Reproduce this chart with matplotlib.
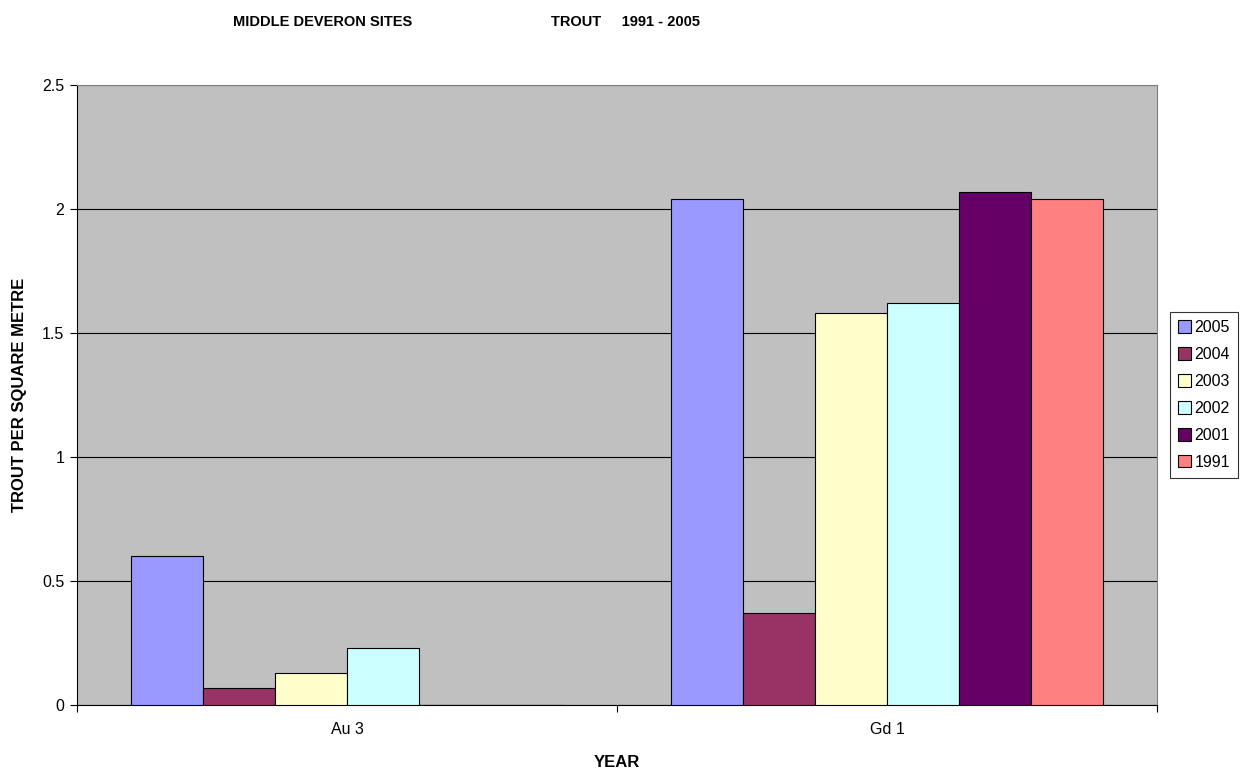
import numpy as np
import matplotlib.pyplot as plt

plt.rcParams['font.family'] = ['Liberation Sans', 'DejaVu Sans']

sites = ['Au 3', 'Gd 1']
years = ['2005', '2004', '2003', '2002', '2001', '1991']
colors = ['#9999FF', '#993366', '#FFFFCC', '#CCFFFF', '#660066', '#FF8080']
values = {
    '2005': [0.60, 2.04],
    '2004': [0.07, 0.37],
    '2003': [0.13, 1.58],
    '2002': [0.23, 1.62],
    '2001': [0.0, 2.07],
    '1991': [0.0, 2.04],
}

fig = plt.figure(figsize=(12.45, 7.76), dpi=100)
ax = fig.add_axes([0.0618, 0.0915, 0.8675, 0.799])
ax.set_facecolor('#C0C0C0')

centers = np.arange(len(sites)) + 0.5
w = 0.8 / len(years)
for i, (yr, c) in enumerate(zip(years, colors)):
    x = centers - 0.4 + w * (i + 0.5)
    ax.bar(x, values[yr], width=w, color=c, edgecolor='black', linewidth=0.8,
           label=yr, zorder=3)

ax.set_xlim(0, len(sites))
ax.set_ylim(0, 2.5)
ax.set_yticks([0, 0.5, 1, 1.5, 2, 2.5])
ax.set_yticklabels(['0', '0.5', '1', '1.5', '2', '2.5'], fontsize=11.5)
ax.yaxis.grid(True, color='black', linewidth=0.8, zorder=1)
ax.set_axisbelow(True)

ax.set_xticks(np.arange(len(sites) + 1))
ax.set_xticklabels([])
ax.set_xticks(centers, minor=True)
ax.set_xticklabels(sites, minor=True, fontsize=11.5)
ax.tick_params(axis='x', which='minor', length=0, pad=12)
ax.tick_params(axis='both', which='major', length=5, width=0.8, color='black')
ax.tick_params(axis='y', pad=4)

for s in ['top', 'right']:
    ax.spines[s].set_color('#808080')
for s in ['left', 'bottom']:
    ax.spines[s].set_color('black')

ax.set_ylabel('TROUT PER SQUARE METRE', fontsize=12, fontweight='bold')
ax.set_xlabel('YEAR', fontsize=12, fontweight='bold')
ax.yaxis.set_label_coords(-0.0463, 0.5)
ax.xaxis.set_label_coords(0.5, -0.0806)

fig.text(233 / 1245, 1 - 22 / 776, 'MIDDLE DEVERON SITES', fontsize=10.5,
         fontweight='bold', ha='left', va='center')
fig.text(551 / 1245, 1 - 22 / 776, 'TROUT     1991 - 2005', fontsize=10.5,
         fontweight='bold', ha='left', va='center')

leg = ax.legend(loc='center left', bbox_to_anchor=(1.012, 0.5), fontsize=11.5,
                frameon=True, fancybox=False, edgecolor='black',
                handlelength=0.8, handleheight=0.8, handletextpad=0.25,
                labelspacing=0.75, borderpad=0.5, borderaxespad=0)
leg.get_frame().set_linewidth(0.8)

fig.savefig('out.png', dpi=100)
